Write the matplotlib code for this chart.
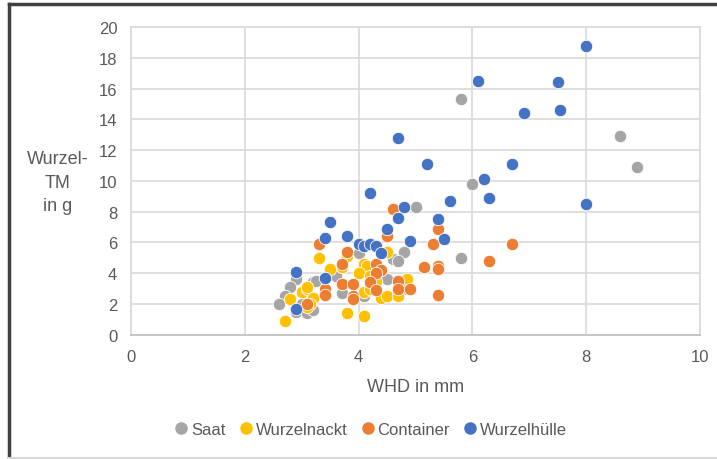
import matplotlib.pyplot as plt
from matplotlib.lines import Line2D

plt.rcParams['font.family'] = ['Liberation Sans Narrow', 'Liberation Sans', 'DejaVu Sans']

# Saat
saat_x = [5.8, 8.6, 8.9, 6.0, 5.0, 5.8, 4.8, 4.6, 4.7, 4.0, 3.6, 4.5, 4.3, 3.7, 4.1,
          3.2, 3.25, 2.9, 2.8, 2.7, 2.6, 2.9, 3.1, 3.2, 4.8, 3.0, 4.2]
saat_y = [15.3, 12.9, 10.9, 9.8, 8.3, 5.0, 5.4, 4.9, 4.8, 5.3, 3.8, 3.6, 3.4, 2.7, 2.5,
          3.4, 3.5, 3.6, 3.1, 2.5, 2.0, 1.5, 1.4, 1.6, 3.0, 2.0, 4.0]

# Wurzelnackt
nackt_x = [4.5, 3.3, 3.8, 3.5, 3.7, 4.1, 4.15, 4.0, 4.2, 4.85, 4.1, 4.2, 4.4, 4.5, 4.7,
           3.0, 3.1, 3.1, 3.2, 3.15, 3.1, 2.8, 2.7, 3.8, 4.1, 4.3]
nackt_y = [5.4, 5.0, 5.1, 4.3, 4.4, 4.6, 4.5, 4.0, 3.8, 3.6, 2.8, 3.0, 2.4, 2.5, 2.5,
           2.8, 3.0, 3.1, 2.4, 2.0, 1.8, 2.3, 0.9, 1.4, 1.2, 3.5]

# Container
cont_x = [4.6, 5.4, 4.5, 3.3, 5.3, 6.7, 3.8, 6.3, 3.7, 4.3, 4.4, 4.3, 5.15, 5.4, 5.4,
          3.7, 3.9, 4.2, 3.4, 3.4, 4.3, 4.7, 4.7, 4.9, 3.9, 3.9, 5.4, 3.1]
cont_y = [8.2, 6.9, 6.4, 5.9, 5.9, 5.9, 5.4, 4.8, 4.6, 4.6, 4.2, 4.0, 4.4, 4.5, 4.3,
          3.3, 3.3, 3.4, 3.0, 2.6, 2.9, 3.5, 3.0, 3.0, 2.5, 2.3, 2.6, 2.0]

# Wurzelhülle
huelle_x = [8.0, 6.1, 7.5, 7.55, 6.9, 4.7, 5.2, 6.7, 6.2, 4.2, 6.3, 8.0, 5.6, 4.8, 4.7,
            5.4, 3.5, 4.5, 3.4, 3.8, 5.5, 4.9, 4.0, 4.1, 4.2, 4.3, 4.4, 2.9, 3.4, 2.9]
huelle_y = [18.8, 16.5, 16.4, 14.6, 14.4, 12.8, 11.1, 11.1, 10.1, 9.2, 8.9, 8.5, 8.7, 8.3, 7.6,
            7.5, 7.3, 6.9, 6.3, 6.4, 6.2, 6.1, 5.9, 5.8, 5.9, 5.8, 5.3, 4.1, 3.7, 1.7]

series = [
    ('Saat', saat_x, saat_y, '#A5A5A5'),
    ('Wurzelnackt', nackt_x, nackt_y, '#FFC000'),
    ('Container', cont_x, cont_y, '#ED7D31'),
    ('Wurzelhülle', huelle_x, huelle_y, '#4472C4'),
]

fig = plt.figure(figsize=(7.17, 4.6), dpi=100)
ax = fig.add_axes([0.183, 0.270, 0.793, 0.669])

for name, xs, ys, col in series:
    ax.scatter(xs, ys, s=80, color=col, edgecolors='white', linewidths=0.6, zorder=3, label=name)

ax.set_xlim(0, 10)
ax.set_ylim(0, 20)
ax.set_xticks(range(0, 11, 2))
ax.set_yticks(range(0, 21, 2))
ax.grid(True, color='#D9D9D9', linewidth=1.2)
ax.set_axisbelow(True)
for sp in ax.spines.values():
    sp.set_color('#D9D9D9')
    sp.set_linewidth(1.2)
ax.spines['bottom'].set_color('#BFBFBF')
ax.tick_params(length=0, colors='#595959', labelsize=12, pad=10)

ax.set_xlabel('WHD in mm', fontsize=13, color='#595959', labelpad=10)
fig.text(0.08, 0.602, 'Wurzel-\nTM\nin g', fontsize=13, color='#595959',
         ha='center', va='center', linespacing=1.5)

handles = [Line2D([], [], marker='o', linestyle='', markersize=8, color=c, label=n)
           for n, _, _, c in series]
fig.legend(handles=handles, loc='center', bbox_to_anchor=(0.515, 0.065), ncol=4,
           frameon=False, fontsize=12, labelcolor='#595959', handletextpad=0.0,
           columnspacing=0.6, handlelength=1.2)

# Rahmen
fig.add_artist(Line2D([0.0125, 0.0125], [0, 0.99], transform=fig.transFigure,
                      color='#404040', linewidth=2.5))
fig.add_artist(Line2D([0.0125, 1.0], [0.99, 0.99], transform=fig.transFigure,
                      color='#404040', linewidth=2.5))
fig.add_artist(Line2D([0.0125, 1.0], [0.002, 0.002], transform=fig.transFigure,
                      color='#D9D9D9', linewidth=1.5))

plt.savefig('out.png', dpi=100)
